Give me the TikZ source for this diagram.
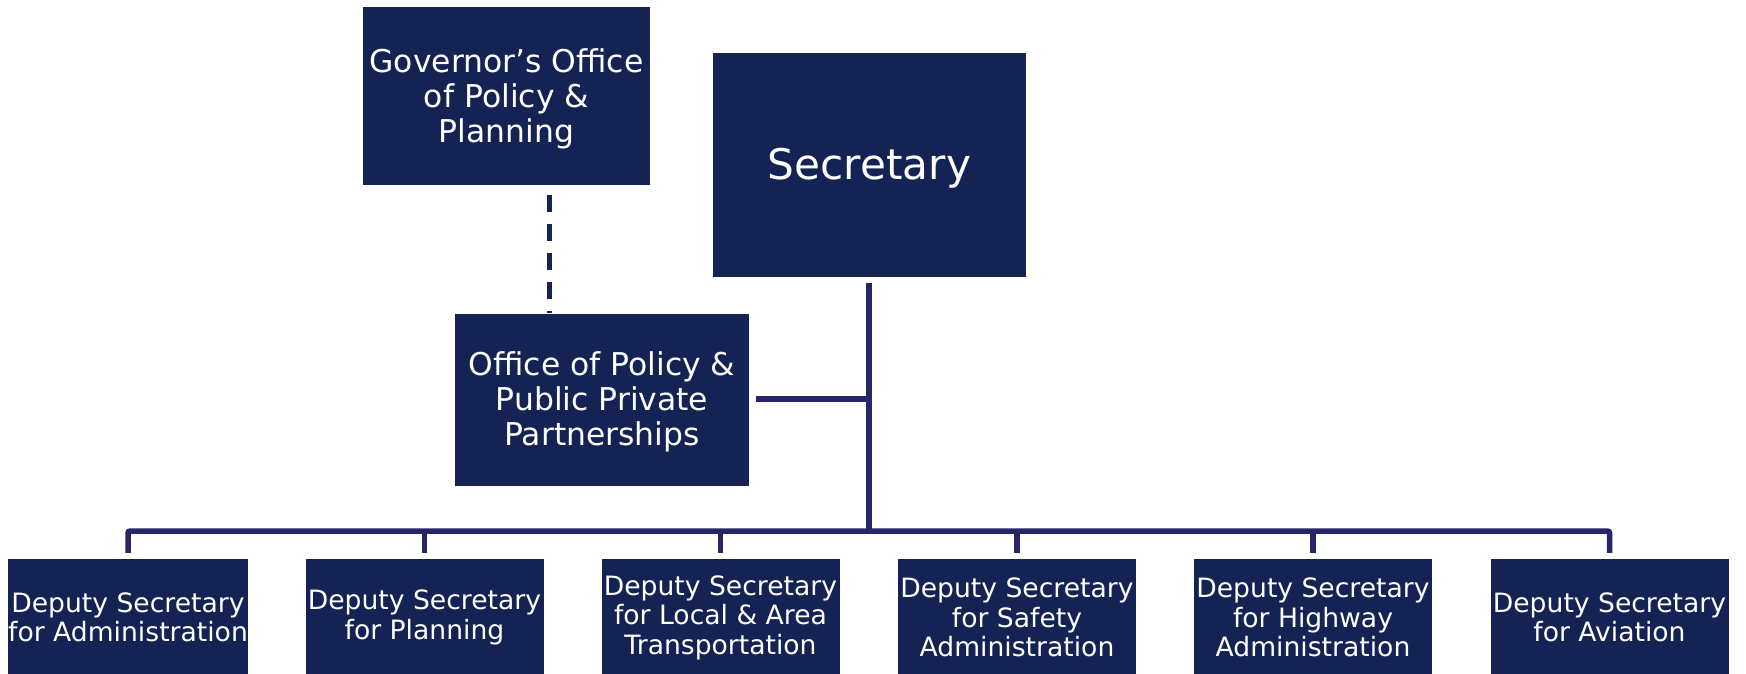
\documentclass[tikz,border=0pt]{standalone}
\usepackage{fontspec}
\setmainfont{DejaVu Sans}
\definecolor{boxc}{HTML}{152354}
\definecolor{linec}{HTML}{262568}
\tikzset{
  orgbox/.style={fill=boxc, draw=none, inner sep=0pt, text=white, align=center},
  boxtext/.style={text=white, align=center, inner sep=0pt},
  toptext/.style={boxtext, yshift=-3.3pt, font=\fontsize{31.4}{35}\selectfont},
  depbox/.style={orgbox, minimum width=238pt, minimum height=117pt, font=\fontsize{26.6}{29.5}\selectfont},
  conn/.style={draw=linec, line width=5.5pt},
  dashconn/.style={draw=boxc, line width=5pt, dash pattern=on 17pt off 12pt}
}
\begin{document}
\begin{tikzpicture}[x=1pt,y=1pt]
\useasboundingbox (0,0) rectangle (1746,-674);
\node[orgbox, minimum width=287pt, minimum height=178pt,
  label={[toptext]center:{Governor’s Office\\of Policy \&\\Planning}}] (gov) at (506.5,-96) {};
\node[orgbox, minimum width=313pt, minimum height=223pt,
  label={[boxtext, yshift=-3.3pt, font=\fontsize{42.2}{46}\selectfont]center:Secretary}] (sec) at (869.5,-165) {};
\node[orgbox, minimum width=294pt, minimum height=172pt,
  label={[toptext, yshift=1.1pt]center:{Office of Policy \&\\Public Private\\Partnerships}}] (ppp) at (602,-399.5) {};
\node[depbox] (d1) at (128,-617.5) {Deputy Secretary\\for Administration};
\node[depbox] (d2) at (424.5,-617.5) {Deputy Secretary\\for Planning};
\node[depbox] (d3) at (720.5,-617.5) {Deputy Secretary\\for Local \& Area\\Transportation};
\node[depbox] (d4) at (1017,-617.5) {Deputy Secretary\\for Safety\\Administration};
\node[depbox] (d5) at (1313,-617.5) {Deputy Secretary\\for Highway\\Administration};
\node[depbox] (d6) at (1609.5,-617.5) {Deputy Secretary\\for Aviation};
\coordinate (bus) at (869,-531);
\coordinate (pj) at (869,-399);
% dashed advisory link
\draw[dashconn] ([xshift=42.5pt,yshift=-9.5pt]gov.south) -- ([xshift=-53pt]ppp.north);
% secretary trunk
\draw[conn] ([xshift=-0.5pt,yshift=-6pt]sec.south) -- (bus);
\draw[conn] ([xshift=7pt]ppp.east |- pj) -- (pj);
% bus with end drops
\draw[conn, rounded corners=2pt] ([yshift=6pt]d1.north) |- (bus) -| ([yshift=6pt]d6.north);
\foreach \d in {d2,d3,d4,d5}{
  \draw[conn] ([yshift=6pt]\d.north) -- (\d.north |- bus);
}
\end{tikzpicture}
\end{document}
